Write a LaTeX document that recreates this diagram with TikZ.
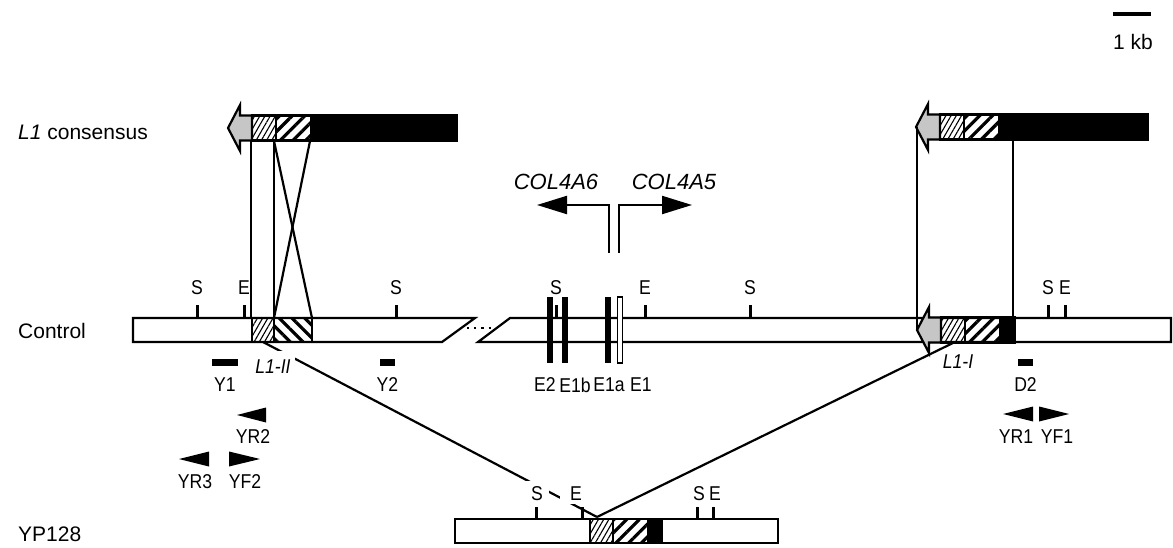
\documentclass[tikz,border=0pt]{standalone}
\usepackage{fontspec}
\setmainfont{Liberation Sans}
\newfontfamily\labfont[FakeStretch=0.88]{Liberation Sans}
\usetikzlibrary{arrows.meta, patterns.meta}

\tikzset{
  biglab/.style={font=\fontsize{21}{25}\selectfont, inner sep=0pt},
  smalllab/.style={font=\labfont\fontsize{20}{24}\selectfont, inner sep=0pt},
  outl/.style={line width=2.2pt},
  site/.style={line width=3pt},
  fineh/.style={pattern={Lines[angle=60,distance=4.5pt,line width=1.1pt]}},
  coarseh/.style={pattern={Lines[angle=45,distance=9pt,line width=3.2pt]}},
  coarserev/.style={pattern={Lines[angle=-45,distance=9pt,line width=3.2pt]}},
  gapfill/.style={fill=white},
}

% L1 element drawn with its tip at the origin, #1 = end of the black part
\newcommand{\lelem}[1]{%
  \draw[outl, fill=gray!45] (24,-12.5) -- (12,-12.5) -- (12,-23) -- (0,0) -- (12,23) -- (12,12.5) -- (24,12.5) -- cycle;
  \draw[outl, fineh] (24,-12.5) rectangle (48,12.5);
  \draw[outl, coarseh] (48,-12.5) rectangle (83,12.5);
  \filldraw[outl] (83,-12.5) rectangle (#1,12.5);
}

\begin{document}
\begin{tikzpicture}[x=1pt, y=-1pt]
\useasboundingbox (0,0) rectangle (1173,548);

% === Scale bar ===
\draw[line width=4pt] (1113,14) -- (1151,14);
\node[biglab] (kb) at (1133,42) {1 kb};

% === Row labels ===
\node[biglab, anchor=west] (lcons) at (18,132) {\textit{L1} consensus};
\node[biglab, anchor=west] (lctrl) at (18,331) {Control};
\node[biglab, anchor=west] (lyp) at (18,534) {YP128};

% === L1 consensus (left and right) ===
\begin{scope}[shift={(228,128)}]
    \lelem{229}
\end{scope}
\begin{scope}[shift={(916,127)}]
    \lelem{232}
\end{scope}

% === Control ===
\draw[outl, fill=white] (133,318) -- (475,318) -- (442,342) -- (133,342) -- cycle;
\draw[outl, fill=white] (510,318) -- (1171,318) -- (1171,342) -- (478,342) -- cycle;
\draw[line width=2.2pt, dash pattern=on 2.2pt off 5pt] (467,328) -- (497,328);

% L1-II (inverted) and L1-I
\draw[outl, fineh] (252,318) rectangle (274,342);
\draw[outl, coarserev] (274,318) rectangle (312,342);
\begin{scope}[shift={(917,330)}]
    \lelem{98}
\end{scope}

% restriction sites
\foreach \x/\s in {197/S, 244/E, 396/S, 556/S, 645/E, 750/S, 1048/S, 1065/E} {
    \draw[site] (\x,305) -- (\x,318);
    \node[smalllab] at (\x,288) {\s};
}

% exons
\foreach \x in {547, 562, 605} {
    \fill (\x,297) rectangle (\x+6,363);
}
\draw[line width=1.3pt, fill=white] (617.5,297) rectangle (622.5,363);
\node[smalllab] (e2) at (545,385) {E2};
\node[smalllab] (e1b) at (575,385) {E1b};
\node[smalllab] (e1a) at (609,385) {E1a};
\node[smalllab] (e1) at (641,385) {E1};

% COL4A6 / COL4A5 transcription
\coordinate (p6) at (609,253);
\coordinate (p5) at (619,253);
\draw[outl, -{Triangle[length=30pt, width=18pt]}] (p6) |- (537,205);
\draw[outl, -{Triangle[length=30pt, width=18pt]}] (p5) |- (692,205);
\node[font=\fontsize{22}{26}\selectfont\itshape, inner sep=0pt] (col6) at (556,182) {COL4A6};
\node[font=\fontsize{22}{26}\selectfont\itshape, inner sep=0pt] (col5) at (674,182) {COL4A5};

% === Consensus to control ===
\coordinate (lcA) at (251,141);
\coordinate (lcB) at (274,141);
\coordinate (lcC) at (310,141);
\coordinate (lbA) at (251,318);
\coordinate (lbB) at (274,318);
\coordinate (lbC) at (312,318);
\draw[outl] (lcA) -- (lbA);
\draw[line width=2.8pt] (lcB) -- (lbB);
\draw[outl] (lcB) -- (lbC);
\draw[outl] (lcC) -- (lbB);

\coordinate (rcA) at (917,127);
\coordinate (rbA) at (917,330);
\coordinate (rcB) at (1013,139);
\coordinate (rbB) at (1013,318);
\draw[outl] (rcA) -- (rbA);
\draw[outl] (rcB) -- (rbB);

% probes and primers
\foreach \xa/\xb/\lab/\name in {212/238/Y1/y1, 380/395/Y2/y2, 1018/1033/D2/d2} {
    \fill (\xa,359) rectangle (\xb,366);
    \node[smalllab] (\name) at ({(\xa+\xb)/2},385) {\lab};
}
\foreach \tx/\bx/\yy in {237/266/415, 179/209/459, 260/229/459, 1003/1033/414, 1069/1039/414} {
    \fill (\tx,\yy) -- (\bx,\yy-7.5) -- (\bx,\yy+7.5) -- cycle;
}
\node[smalllab] (yr2) at (253,437) {YR2};
\node[smalllab] (yr3) at (195,482) {YR3};
\node[smalllab] (yf2) at (245,482) {YF2};
\node[smalllab] (yr1) at (1016,437) {YR1};
\node[smalllab] (yf1) at (1057,437) {YF1};

% === YP128 ===
\draw[outl, fill=white] (455,519) rectangle (778,543);
\draw[outl, fineh] (590,519) rectangle (613,543);
\draw[outl, coarseh] (613,519) rectangle (648,543);
\filldraw[outl] (648,519) rectangle (662,543);
\foreach \x in {536, 582, 697, 713} {
    \draw[site] (\x,507) -- (\x,519);
}

% junction lines
\coordinate (l2foot) at (263,342);
\coordinate (l1foot) at (955,342);
\coordinate (ypjoin) at (597,517);
\draw[outl] (l2foot) -- (ypjoin);
\draw[outl] (l1foot) -- (ypjoin);

\node[smalllab, gapfill, inner xsep=4pt, inner ysep=9pt] (l2) at (273,367) {\itshape L1-II};
\node[smalllab] (l1) at (958,362) {\itshape L1-I};
\node[smalllab, gapfill, inner sep=6pt] (ys1) at (537,494) {S};
\node[smalllab, gapfill, inner xsep=10pt, inner ysep=3pt] (ye1) at (576,494) {E};
\node[smalllab] (ys2) at (699,494) {S};
\node[smalllab] (ye2) at (715,494) {E};

\end{tikzpicture}
\end{document}
